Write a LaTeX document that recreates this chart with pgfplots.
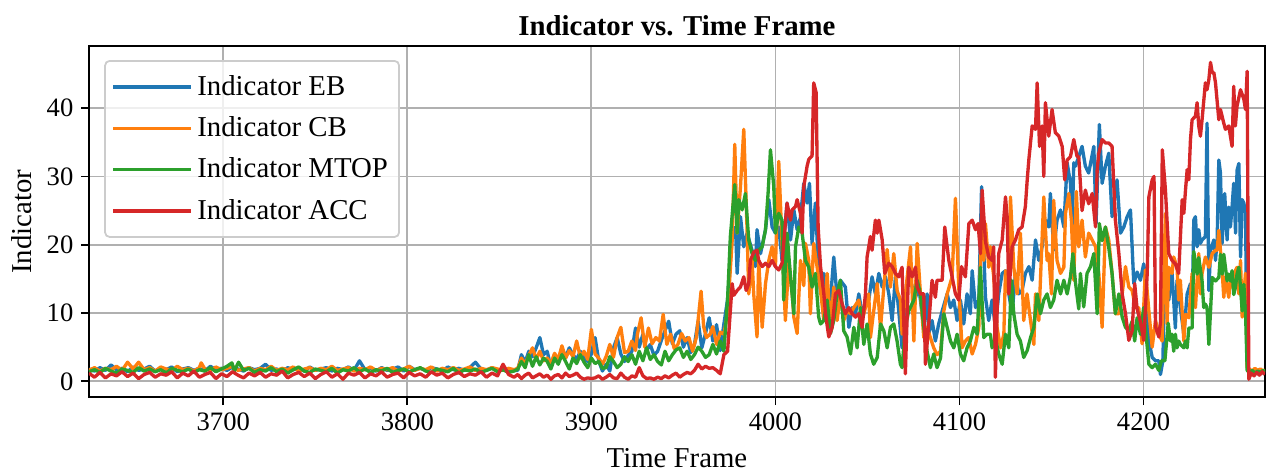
\documentclass[border=0pt]{standalone}
\usepackage{pgfplots}
\pgfplotsset{compat=1.18}
\usepackage{fontspec}
\setmainfont{Liberation Serif}
\definecolor{tabblue}{HTML}{1F77B4}
\definecolor{taborange}{HTML}{FF7F0E}
\definecolor{tabgreen}{HTML}{2CA02C}
\definecolor{tabred}{HTML}{D62728}
\definecolor{gridgray}{HTML}{B0B0B0}
\definecolor{legendedge}{HTML}{CCCCCC}
\begin{document}
\begin{tikzpicture}
\begin{axis}[
  scale only axis, width=529bp, height=158bp,
  xmin=3627, xmax=4266, ymin=-2.34, ymax=49.1,
  xtick={3700,3800,3900,4000,4100,4200},
  ytick={0,10,20,30,40},
  xtick pos=left, ytick pos=left,
  tick align=outside, major tick length=3.5bp,
  tick style={black, line width=0.8bp},
  grid=major, grid style={color=gridgray, line width=0.8bp},
  axis line style={line width=0.8bp},
  /pgf/number format/assume math mode=true,
  /pgf/number format/1000 sep={},
  tick label style={font=\fontsize{12}{14}\selectfont},
  title={\textbf{Indicator vs. Time Frame}},
  title style={font=\fontsize{13}{15}\selectfont, yshift=-5bp},
  xlabel={Time Frame}, ylabel={Indicator},
  xlabel style={yshift=-1bp},
  label style={font=\fontsize{13}{15}\selectfont},
  legend cell align=left,
  legend style={at={(0.013,0.96)}, anchor=north west, draw=legendedge, line width=0.8bp,
    rounded corners=2bp, fill=white, fill opacity=0.8, text opacity=1,
    font=\fontsize{13}{15}\selectfont, row sep=4.1bp, inner xsep=3bp, inner ysep=4.5bp},
  legend image code/.code={\draw[#1, line width=1.5bp] (0bp,0bp) -- (29bp,0bp); \path (0bp,0bp) -- (35bp,0bp);},
  every axis plot/.append style={line width=1.5bp, line join=round},
  after end axis/.code={
    \path (rel axis cs:1,1) ++(2.25bp,20.7bp) node[inner sep=0pt, minimum size=0pt] {};
    \path (rel axis cs:0,0) ++(-40bp,-35.1bp) node[inner sep=0pt, minimum size=0pt] {};
  },
]
\addplot[color=tabblue] coordinates {
(3627,1.8)(3630,1.5)(3633,2.0)(3636,1.6)(3639,2.4)(3642,1.7)(3645,1.9)(3648,1.4)(3651,2.1)(3654,1.6)(3657,1.8)(3660,2.2)(3663,1.5)(3666,1.9)(3669,1.7)(3672,2.1)(3675,1.4)(3678,1.8)(3681,2.0)(3684,1.6)(3687,1.9)(3690,1.5)(3693,2.2)(3696,1.7)(3699,1.9)(3702,1.6)(3705,2.1)(3708,1.8)(3711,1.5)(3714,2.0)(3717,1.7)(3720,1.9)(3723,2.5)(3726,1.6)(3729,1.8)(3732,1.4)(3735,2.0)(3738,1.7)(3741,1.9)(3744,1.5)(3747,2.1)(3750,1.6)(3753,1.8)(3756,2.0)(3759,1.5)(3762,1.9)(3765,1.7)(3768,2.1)(3771,1.6)(3774,3.0)(3777,1.7)(3780,1.9)(3783,1.5)(3786,2.0)(3789,1.6)(3792,1.8)(3795,2.1)(3798,1.5)(3801,2.2)(3804,1.7)(3807,1.9)(3810,1.6)(3813,2.0)(3816,1.8)(3819,1.5)(3822,2.1)(3825,1.7)(3828,1.9)(3831,1.6)(3834,2.0)(3837,2.8)(3840,1.8)(3843,1.6)(3846,2.0)(3849,1.5)(3852,1.7)(3855,1.4)(3858,1.6)
(3860,1.6)(3862,3.9)(3864,2.8)(3866,4.4)(3868,3.6)(3870,4.9)(3872,6.4)(3874,3.9)(3876,4.4)(3878,2.0)(3880,3.9)(3882,3.0)(3884,4.9)(3886,3.5)(3888,4.9)(3890,3.9)(3892,3.2)(3894,4.4)(3896,3.3)(3898,2.9)(3900,4.0)(3902,6.4)(3904,3.0)(3906,1.5)(3908,2.5)(3910,1.5)(3912,4.9)(3914,6.4)(3916,4.0)(3918,2.9)(3920,3.8)(3922,4.4)(3924,7.8)(3926,5.0)(3928,6.9)(3930,4.5)(3932,5.4)(3934,3.8)(3936,4.4)(3938,6.0)(3940,7.4)(3942,8.8)(3944,5.5)(3946,6.9)(3948,7.4)(3950,5.0)(3952,6.4)(3954,4.2)(3956,5.4)(3958,8.8)(3960,4.9)(3962,7.0)(3964,9.3)(3966,5.9)(3968,8.3)(3970,4.5)(3972,8.4)
(3974,12)(3976.5,21.2)(3978.3,22.6)(3979.2,15.8)(3981,24.1)(3982.8,19.7)(3984.6,21.7)(3987.3,19.2)(3989.1,16.8)(3990,22.2)(3991.9,18.7)(3994.6,22.2)(3996.4,26.6)(3998.2,22.6)(4000,21.7)(4001.8,22.6)(4003.6,17.7)(4006.3,26.1)(4008.2,20.7)(4010,25.1)(4011.8,22.2)(4013.6,24)(4015.4,29)(4017.2,26.1)(4018.5,29)(4019.9,20.2)(4021.7,26.1)(4023.2,17.7)(4024.5,12.8)(4026.3,15.8)(4028.1,12.8)(4029.9,11.9)(4031.7,18.2)(4033.5,12.3)(4035.3,14.8)(4038,13.8)(4039.9,7.9)(4041.7,10.8)(4043.5,9.9)(4045.3,12.8)(4047.1,9.9)(4048.9,11.4)(4050.7,11.9)(4052.5,15.3)(4054.3,12.8)(4056.2,15.8)(4058,13.8)(4059.8,15.3)(4061.6,12.8)(4063.4,8.9)(4065.2,15.3)(4067,10.3)(4068.8,4.9)(4070.6,10.3)(4072.4,15.8)(4074.3,13.8)(4076.1,12.3)(4077.9,13.8)(4080.6,7.9)(4082.4,12.8)(4083.3,6.9)(4085.1,8.9)(4086.9,5.9)(4088.7,8.4)(4090.6,10.3)(4093.3,12.8)(4095.1,10.8)(4096.9,11.9)(4098.7,8.9)(4100.5,11.9)(4102.3,8.4)(4104.1,12.8)(4105.9,9.9)(4106.9,16.2)(4108.7,10.8)(4110.5,11.9)(4112,28.5)(4113.2,19.2)(4114.1,12.3)(4115.9,8.9)(4117.7,11.9)(4119.5,7.9)(4121.3,12.8)(4123.2,15.8)(4125,16.2)(4126.8,12.8)(4128.6,9.9)(4130.4,15.8)(4132.2,12.8)(4134,13.3)(4135.8,15.8)(4137.7,16.8)(4139.5,14.8)(4141.3,20.7)(4143.1,17.7)(4144.9,19.7)(4146.7,23.6)(4148.5,22.6)(4149.4,27.5)(4151.2,19.2)(4153,23.6)(4154.9,25.1)(4156.7,22.6)(4158.5,32)(4160.3,29)(4161.2,22.6)(4162.1,32)(4163,31.5)(4164.8,32.9)(4166.6,34.4)(4168.4,31.5)(4170.2,30.5)(4173,34.4)(4174.2,23.1)(4176,37.6)(4177.5,29)(4179.3,31.5)(4181.1,33.4)(4182.9,24.1)(4185.6,29.5)(4187.5,21.7)(4189.3,22.6)(4191.1,24.1)(4192.9,25.1)(4194.7,14.3)(4196.5,16)(4198.3,14.8)(4200.1,17.2)(4201,15.3)(4202.9,6)(4204.7,3.5)(4206.5,3.0)(4208.3,3.0)(4209.2,1)(4210.5,3.0)(4211.6,15.8)(4213.7,11.9)(4215.5,15.8)(4217.3,7.8)(4218.2,14.8)(4220,10.8)(4221.9,6.9)(4223.7,12.8)(4225.5,14.3)(4226.4,10)(4227.3,23.6)(4228.2,24.1)(4229.1,19.7)(4230,22.2)(4230.9,20.2)(4231.8,20.7)(4233.6,21.2)(4234.5,37.8)(4235.5,13.3)(4236.4,19.2)(4238.2,20.7)(4239.1,17.7)(4240,20.7)(4240.9,32.4)(4241.8,30.5)(4242.7,20.2)(4244.1,27.5)(4245.4,20.7)(4246.3,25.5)(4247.2,22.6)(4248.1,25.5)(4249,29)(4250,21.7)(4250.8,30.9)(4251.8,31.9)(4252.7,18.2)(4253.6,26.6)(4254.5,26.1)(4255.4,24.6)(4256.3,2.5)(4257.5,1.6)(4259,1.3)(4260.5,1.7)(4262,1.4)(4263.5,1.6)(4265,1.2)(4266,1.5)
};
\addlegendentry{Indicator EB}
\addplot[color=taborange] coordinates {
(3627,1.6)(3630,2.0)(3633,1.5)(3636,1.9)(3639,1.7)(3642,2.2)(3645,1.6)(3648,2.8)(3651,1.8)(3654,2.8)(3657,1.7)(3660,2.0)(3663,1.5)(3666,2.1)(3669,1.8)(3672,1.6)(3675,2.2)(3678,1.7)(3681,1.9)(3684,1.5)(3687,2.0)(3688,2.7)(3690,1.8)(3693,1.6)(3696,2.1)(3699,1.7)(3702,1.9)(3705,2.2)(3708,1.6)(3711,1.8)(3714,2.0)(3717,1.5)(3720,1.9)(3723,1.7)(3726,2.2)(3729,1.6)(3732,1.9)(3735,1.7)(3738,2.1)(3741,1.5)(3744,1.8)(3747,2.0)(3750,1.6)(3753,1.9)(3756,1.7)(3759,2.2)(3762,1.6)(3765,1.8)(3768,2.0)(3771,1.5)(3774,1.9)(3777,1.7)(3780,2.1)(3783,1.6)(3786,1.9)(3789,1.7)(3792,2.0)(3795,1.5)(3798,1.8)(3801,2.2)(3804,1.6)(3807,1.9)(3810,1.7)(3813,2.1)(3816,1.5)(3819,1.9)(3822,1.7)(3825,2.0)(3828,1.6)(3831,1.8)(3834,2.1)(3837,1.6)(3840,1.9)(3843,1.7)(3846,2.0)(3849,1.8)(3852,1.6)(3855,1.9)(3858,1.7)
(3860,1.9)(3862,3.4)(3864,2.5)(3866,3.8)(3868,4.9)(3870,3.2)(3872,4.4)(3874,3.0)(3876,3.4)(3878,2.6)(3880,4.1)(3882,3.2)(3884,5.2)(3886,3.4)(3888,4.5)(3890,3.6)(3892,5.9)(3894,3.5)(3896,4.4)(3898,3.2)(3900,7.6)(3902,4.0)(3904,3.4)(3906,2.5)(3908,3.6)(3910,5.4)(3912,3.5)(3914,6.4)(3916,7.9)(3918,4.2)(3920,4.4)(3922,5.9)(3924,4.5)(3925,6.9)(3927,9.3)(3929,5.0)(3931,7.8)(3933,5.5)(3935,6.4)(3937,5.9)(3939,9.8)(3941,5.4)(3943,6.9)(3945,4.8)(3947,5.4)(3949,7.0)(3951,5.9)(3953,6.4)(3955,4.4)(3957,6.4)(3959.6,13.2)(3961,8.0)(3962.5,6.4)(3964.5,6.9)(3966,8.0)(3968,5.4)(3970,7.2)(3972,6.9)
(3974,10)(3976.5,20.7)(3977.9,34.7)(3979.2,21.7)(3981,28.5)(3982.8,36.9)(3984.6,22.2)(3985.5,12.8)(3987.3,17.7)(3988.2,12.8)(3990,6.5)(3990.9,17.7)(3992.8,7.9)(3994.6,14.3)(3996.4,17.7)(3998.2,19.7)(4000,16.8)(4001.8,32.2)(4003.6,20.2)(4005.4,8.9)(4007.3,17.7)(4009.1,12.8)(4010,9.4)(4011.8,7)(4013.6,17.7)(4015.4,14.0)(4016.3,20.2)(4018.1,17.7)(4019,9.9)(4020.8,20.2)(4022.6,16.8)(4024.5,13.3)(4026.3,8.9)(4028.1,15.8)(4029.9,7.9)(4031.7,13.8)(4033.5,8.9)(4035.3,12.8)(4037.1,8.9)(4038.9,10.3)(4040.8,9.9)(4042.6,10.8)(4045.3,11.9)(4047.1,8.9)(4048.9,10.8)(4050.7,12.8)(4051.6,6.4)(4053.4,10.3)(4055.3,14.3)(4057.1,7.8)(4058.9,13.8)(4060.7,19.3)(4062.5,13.8)(4064.3,18.7)(4066.1,13.3)(4067.9,11.9)(4068.8,6.9)(4070.6,12.8)(4073.4,19.7)(4075.2,5.9)(4077,20.2)(4078.8,12.8)(4080.6,6.4)(4082.4,7.9)(4084.2,6.4)(4086,4.9)(4087.8,3.9)(4089.7,4.4)(4091.5,10.3)(4093.3,12.8)(4096,15.3)(4097.8,26.8)(4099.6,13.8)(4101.4,4.9)(4103.2,5.9)(4105,6.4)(4106.9,4)(4108.7,5.4)(4110.5,7.9)(4112,23.6)(4113.2,17.7)(4114.1,23.1)(4115.9,16.7)(4116.8,19.7)(4118.6,15.3)(4120.4,7.9)(4122.3,4.9)(4124.1,6.9)(4125,16.2)(4126.8,12.8)(4127.7,27)(4129.5,16.7)(4131.3,12.8)(4133.1,21.7)(4134.9,8.9)(4136.7,12.8)(4138.6,8.9)(4140.4,5.4)(4141.3,12.8)(4143.1,8.9)(4145.8,27)(4147.6,17.7)(4148.5,18.7)(4150,12.8)(4151.2,26.5)(4153,17.7)(4154.9,15.8)(4156.7,16.7)(4157.6,24.6)(4159.4,27.5)(4160.8,23.6)(4162.1,14.8)(4163.5,27.8)(4164.8,19.7)(4166.6,23.6)(4168.4,18.2)(4170.2,21.7)(4172.1,20.7)(4173.9,19.7)(4175.7,15.8)(4177.5,7.9)(4179.3,22.6)(4181.1,20.7)(4182.9,15.8)(4184.7,9.9)(4186.6,9.9)(4188.4,12.8)(4190.2,16.8)(4192,13.8)(4193.8,13.3)(4195.6,10.8)(4197.4,10.8)(4199.2,5.5)(4201,16.3)(4202.9,10.3)(4204.7,5)(4206.5,8.9)(4208.3,6.9)(4210.1,5.9)(4211.9,24.6)(4212.8,8.4)(4213.7,16.7)(4215.5,15.8)(4216.4,18.2)(4218.2,16.7)(4219.1,11.9)(4220,14.8)(4221.9,5.9)(4222.8,9.8)(4224.6,9.3)(4226.4,15.8)(4227.3,11.4)(4228.2,10.8)(4230,18.7)(4230.9,12.8)(4231.8,15.8)(4233.6,18.2)(4235.5,16.7)(4237.3,18.7)(4239.1,19.2)(4240,19.2)(4240.9,22.1)(4242.7,16.2)(4243.6,12.3)(4244.5,15.3)(4246.3,12.3)(4247.2,14.8)(4248.1,13.8)(4249,13.8)(4249.9,16.2)(4250.8,16.7)(4251.8,12.8)(4252.7,17.7)(4253.6,9.4)(4254.5,12.8)(4255.4,15.8)(4256.3,2.0)(4257.5,1.8)(4259,1.5)(4260.5,1.9)(4262,1.6)(4263.5,1.8)(4265,1.5)(4266,1.7)
};
\addlegendentry{Indicator CB}
\addplot[color=tabgreen] coordinates {
(3627,1.4)(3630,1.7)(3633,1.3)(3636,1.9)(3639,1.5)(3642,1.2)(3645,1.8)(3648,1.6)(3651,1.3)(3654,2.0)(3657,1.5)(3660,1.8)(3663,1.4)(3666,1.7)(3669,1.2)(3672,1.9)(3675,1.6)(3678,1.4)(3681,1.8)(3684,1.3)(3687,1.7)(3690,1.5)(3693,2.0)(3696,1.4)(3699,1.8)(3702,2.2)(3704.7,2.7)(3706,1.5)(3708.3,2.8)(3711,1.6)(3714,1.9)(3717,1.3)(3720,1.7)(3723,1.5)(3726,2.0)(3729,1.4)(3732,1.8)(3735,1.2)(3738,1.7)(3741,2.1)(3744,1.5)(3747,1.3)(3750,1.8)(3753,1.6)(3756,1.4)(3759,1.9)(3762,1.2)(3765,1.7)(3768,1.5)(3771,2.0)(3774,1.4)(3777,1.8)(3780,1.3)(3783,1.7)(3786,1.5)(3789,1.9)(3792,1.3)(3795,1.6)(3798,1.8)(3801,1.4)(3804,1.7)(3807,2.0)(3810,1.5)(3813,1.3)(3816,1.8)(3819,1.6)(3822,1.4)(3825,1.9)(3828,1.2)(3831,1.7)(3834,1.5)(3837,1.8)(3840,1.3)(3843,1.6)(3846,1.9)(3849,1.4)(3852,1.7)(3855,1.3)(3858,1.5)
(3860,1.8)(3862,2.9)(3864,2.0)(3866,3.9)(3868,2.2)(3870,3.6)(3872,2.4)(3874,3.4)(3876,2.9)(3878,1.8)(3880,3.4)(3882,2.5)(3884,3.9)(3886,2.9)(3888,1.8)(3890,3.4)(3892,2.6)(3894,3.9)(3896,2.8)(3898,2.0)(3900,3.4)(3902,2.6)(3904,2.9)(3906,1.9)(3908,2.0)(3910,3.6)(3912,2.9)(3914,2.0)(3916,2.5)(3918,3.6)(3920,2.9)(3922,3.9)(3924,2.5)(3926,4.4)(3928,3.0)(3930,4.9)(3932,3.2)(3934,3.9)(3936,2.9)(3938,2.4)(3940,4.4)(3942,3.0)(3944,3.9)(3946,4.6)(3948,4.9)(3950,3.5)(3952,4.4)(3954,3.2)(3956,3.9)(3958,5.0)(3960,4.4)(3962,3.5)(3964,3.9)(3966,5.4)(3968,4.0)(3970,5.9)(3972,4.4)
(3974,12)(3975.5,21.2)(3977.9,28.8)(3979.2,21.7)(3980.1,26.6)(3981.9,25.1)(3983.7,27.5)(3985.5,20.7)(3987.3,18.7)(3989.1,17.7)(3990.9,19.2)(3992.8,19.7)(3994.6,22.2)(3996,27.5)(3997.3,33.9)(3999.1,28.5)(4000,21.7)(4001.8,24.6)(4003.6,23.6)(4004.5,11.9)(4006.3,21.7)(4008.2,15.3)(4010,9.9)(4010.9,19.7)(4012.7,22.6)(4014.5,21.7)(4016.3,17.7)(4018.1,16.7)(4019.9,13.8)(4021.7,15.8)(4023.5,9.4)(4024.5,8.4)(4026.3,8.9)(4028.1,11.9)(4029.9,7)(4031.7,8.9)(4033.5,12.8)(4035.3,14.8)(4037.1,7.4)(4038.9,6.5)(4040.8,4)(4042.6,7.9)(4044.4,4.9)(4046.2,10.8)(4048,5.4)(4049.8,8.4)(4051.6,4)(4053.4,2.5)(4055.3,3.5)(4057.1,8.4)(4058.9,7.4)(4060.7,4.9)(4062.5,7.9)(4064.3,8.4)(4066.1,5.9)(4067.9,2.5)(4068.8,2)(4070.6,7.9)(4072.4,10.3)(4075.2,11.9)(4077,14.8)(4078.8,12.8)(4080.6,7.9)(4082.4,4.4)(4084.2,2)(4086,4)(4087.8,2)(4089.7,3.4)(4091.5,9.9)(4093.3,7.9)(4095.1,5.9)(4096.9,4.9)(4098.7,6.9)(4100.5,4)(4102.3,3)(4104.1,4.9)(4105.9,5.9)(4107.8,7.9)(4109.6,6.9)(4111.4,16.7)(4113.2,6.4)(4115,6.9)(4116.8,6.9)(4117.7,4.9)(4119.5,6.4)(4121.3,4)(4123.2,2.5)(4125,6.9)(4126.8,4.9)(4128.2,14.8)(4129.5,9.9)(4131.3,6.9)(4133.1,5.9)(4134.9,3.5)(4136.8,4.5)(4138.6,6.4)(4140.4,7.9)(4142.2,12.8)(4144,9.9)(4145.8,11.9)(4147.6,12.8)(4149.4,10.8)(4151.2,11.9)(4153,14.8)(4154.9,12.8)(4156.7,14.8)(4158.5,12.8)(4160.3,15.3)(4161.6,18.7)(4163,14.5)(4164.8,10.6)(4165.7,15.8)(4167.5,10.9)(4169.3,15.8)(4171.2,16.8)(4173,18.7)(4174.8,9.9)(4176,23.1)(4177.5,20.6)(4179.3,22.6)(4181.1,19.6)(4182.9,15.8)(4184.7,9.9)(4186.6,12.8)(4188.4,9.4)(4190.2,7.9)(4192,7.4)(4193.8,8.8)(4195.2,5.9)(4196.5,9.3)(4198.3,6.9)(4200.1,10.8)(4201,7.9)(4202.9,2.5)(4204.7,2)(4206.5,2.5)(4208.3,1.6)(4209.7,3.0)(4211.6,3.0)(4213.4,8.5)(4214.6,5.9)(4215.5,6.9)(4216.4,4.4)(4217.3,6.9)(4218.2,4.9)(4219.1,5.9)(4220,5.4)(4221.9,4.9)(4222.8,5.9)(4223.7,4.9)(4224.6,7.8)(4226.4,7.8)(4227.3,19)(4229.1,15.7)(4230,18.1)(4231.8,14.7)(4232.7,10.8)(4233.6,11.3)(4234.5,10.8)(4235.5,5.4)(4237.3,15.2)(4239.1,14.7)(4240.9,15.2)(4241.8,18.6)(4242.7,15.7)(4243.6,18.6)(4244.5,16.7)(4245.4,14.7)(4246.3,15.7)(4247.2,14.7)(4248.1,16.2)(4249,12.7)(4249.9,13.7)(4250.8,15.7)(4251.8,16.7)(4252.7,13.7)(4253.6,10.3)(4254.5,14.2)(4255.4,10.3)(4256.3,1.6)(4257.5,1.3)(4259,1.6)(4260.5,1.2)(4262,1.5)(4263.5,1.3)(4265,1.6)(4266,1.4)
};
\addlegendentry{Indicator MTOP}
\addplot[color=tabred] coordinates {
(3627,1.2)(3630,0.6)(3633,1.3)(3636,0.5)(3639,1.1)(3642,0.8)(3645,1.4)(3648,0.7)(3651,1.2)(3654,0.4)(3657,1.0)(3660,1.3)(3663,0.6)(3666,1.1)(3669,0.9)(3672,1.4)(3675,0.5)(3678,1.2)(3681,0.8)(3684,1.5)(3687,0.6)(3690,1.0)(3693,1.3)(3696,0.4)(3699,1.1)(3702,0.7)(3705,1.4)(3708,0.9)(3711,0.5)(3714,1.2)(3717,0.8)(3720,1.3)(3723,0.6)(3726,1.1)(3729,0.9)(3732,1.5)(3735,0.5)(3738,1.0)(3741,1.3)(3744,0.7)(3747,1.2)(3750,0.4)(3753,1.0)(3756,1.4)(3759,0.6)(3762,1.1)(3765,0.3)(3768,1.2)(3771,0.9)(3774,1.3)(3777,0.5)(3780,1.1)(3783,0.8)(3786,1.4)(3789,0.6)(3792,1.0)(3795,1.2)(3798,0.5)(3801,1.3)(3804,0.8)(3807,1.1)(3810,0.6)(3813,1.4)(3816,0.9)(3819,1.2)(3822,0.5)(3825,1.0)(3828,1.3)(3831,0.7)(3834,1.1)(3837,0.9)(3840,1.4)(3843,0.6)(3846,1.2)(3849,0.8)(3852,2.5)(3855,1.0)(3858,0.6)
(3860,1.0)(3862,0.4)(3864,0.9)(3866,1.2)(3868,0.5)(3870,0.8)(3872,1.1)(3874,0.6)(3876,0.9)(3878,0.3)(3880,0.8)(3882,1.0)(3884,0.5)(3886,1.2)(3888,0.7)(3890,0.9)(3892,1.2)(3894,0.6)(3896,0.3)(3898,0.5)(3900,0.4)(3902,0.5)(3904,0.8)(3906,0.3)(3908,0.6)(3910,1.0)(3912,0.5)(3914,0.4)(3916,1.2)(3918,0.6)(3920,0.3)(3922,0.8)(3924,0.6)(3926,2.0)(3928,0.8)(3930,0.4)(3932,0.5)(3934,0.3)(3936,0.6)(3938,0.4)(3940,0.8)(3942,0.5)(3944,0.9)(3946,1.2)(3948,0.6)(3950,1.0)(3952,1.3)(3954,1.1)(3956,1.6)(3958,2.5)(3960,1.8)(3962,2.2)(3964,1.9)(3966,2.0)(3968,1.6)(3970,1.1)(3972,3.9)
(3974,4.4)(3976.5,14.3)(3977.4,12.6)(3979.2,13.3)(3981,13.8)(3982.8,15.3)(3984.1,13.3)(3985.5,14.3)(3986.4,17.7)(3988.2,18.9)(3990,19.2)(3990.9,17.7)(3992.8,16.8)(3994.6,17.3)(3996.4,16.8)(3998.2,17.7)(4000,16.8)(4001.8,16.3)(4003.6,17.3)(4005.4,23.1)(4006.3,26.1)(4008.2,23.6)(4009.1,25.1)(4010.9,25.6)(4011.8,26.6)(4013.6,24.6)(4014.5,21.7)(4015.4,28.5)(4017.2,31.5)(4018.1,32.5)(4019.9,33)(4020.8,43.7)(4022.1,42.3)(4023.2,22.6)(4024.5,16.8)(4026.3,12.8)(4027.2,9.9)(4029,6.5)(4030.8,7.9)(4032.6,12.8)(4034.4,13.3)(4036.2,11.4)(4038,9.9)(4039.9,10.8)(4041.7,9.9)(4043.5,9.4)(4045.3,9.9)(4047.1,7.9)(4048.9,12.8)(4049.8,18.2)(4051.6,21.2)(4052.5,19.2)(4054.3,23.6)(4055.3,21.7)(4056.2,23.6)(4058,20.7)(4059.4,15.8)(4061.6,17.3)(4063.4,16.8)(4065.2,15.8)(4067,15.3)(4068.8,16.7)(4070.6,1.1)(4072.4,16.7)(4074.3,15.3)(4076.1,16.7)(4077,13.8)(4078.8,12.8)(4080.6,12.8)(4081.5,2.5)(4083.3,8.4)(4085.1,14.8)(4086.9,12.3)(4087.8,14.8)(4090.6,14.8)(4092,22.6)(4094.2,17.7)(4096,15.3)(4097.8,12.8)(4099.6,11.9)(4101.1,16.8)(4103.2,15.3)(4105.1,23.1)(4106.9,23.6)(4108.7,22.2)(4110.1,23.1)(4111.4,18.7)(4112.3,28)(4114.1,20.5)(4115.9,18.2)(4117.7,17.7)(4118.6,19.7)(4119.5,0.6)(4121.3,18.7)(4123.2,20.7)(4125,27)(4125.9,24.1)(4126.8,12.8)(4128.6,19.7)(4130.4,20.7)(4132.2,22.2)(4134,22.6)(4135.8,25.6)(4136.8,29.5)(4137.7,32.5)(4139.5,37.4)(4141.3,36.9)(4142.2,43.7)(4143.5,34.4)(4144.9,37.4)(4145.8,30)(4146.7,40.8)(4148.5,35.9)(4150.3,39.8)(4152.1,36.4)(4154,35.9)(4155.8,34.4)(4157.2,29.5)(4158.5,32.4)(4160.3,32.9)(4162.1,35.4)(4163.9,32.9)(4164.8,32.9)(4166.6,25)(4168.4,28)(4170.2,26)(4172.1,27.5)(4173.9,22.6)(4174.8,30.9)(4175.7,33.4)(4177.5,35.4)(4179.3,34.9)(4181.1,34.9)(4182.9,34.4)(4184.7,23.6)(4186.6,18.7)(4188.4,12.8)(4190.2,9.9)(4192,6)(4193.8,7.4)(4195.2,14.3)(4196.5,10.6)(4198.3,8.7)(4200.1,6)(4202,15.8)(4202.9,27)(4204.7,29.5)(4205.7,30)(4206.5,8)(4208.3,6.5)(4209.2,8.7)(4210.2,33.9)(4211.9,28)(4213.7,18.7)(4215.5,17.7)(4217.3,17.2)(4219.1,15.8)(4221,26.6)(4221.9,24.6)(4222.8,28)(4223.7,31)(4224.6,29.5)(4225.5,35.4)(4226.4,38.3)(4228.2,38.8)(4229.1,40.8)(4230,37.4)(4230.9,35.9)(4231.8,38.3)(4233.6,43.7)(4234.5,42.7)(4235.5,44.2)(4236.4,46.7)(4237.3,45.2)(4238.2,45.2)(4239.1,43.7)(4240.9,38.3)(4241.8,39.8)(4243.6,37.8)(4244.5,36.9)(4246.3,37.4)(4248.1,34.4)(4249,43.2)(4249.9,37.4)(4250.8,40.3)(4252.7,42.7)(4254.5,41.3)(4255.4,39.8)(4256.3,45.4)(4257.2,0.3)(4258.5,1.2)(4260,0.8)(4261.5,1.3)(4263,0.9)(4264.5,1.4)(4266,1.0)
};
\addlegendentry{Indicator ACC}
\end{axis}
\end{tikzpicture}
\end{document}
